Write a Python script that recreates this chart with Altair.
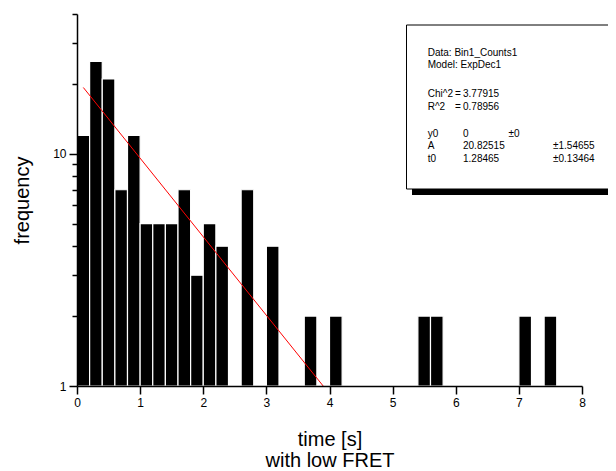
import altair as alt
import pandas as pd

# Histogram bins (start of each 0.2 s bin) and counts
bin_start = [0.0, 0.2, 0.4, 0.6, 0.8, 1.0, 1.2, 1.4, 1.6, 1.8, 2.0, 2.2, 2.6, 3.0,
             3.6, 4.0, 5.4, 5.6, 7.0, 7.4]
counts = [12, 25, 21, 7, 12, 5, 5, 5, 7, 3, 5, 4, 7, 4,
          2, 2, 2, 2, 2, 2]
bin_width = 0.2

# Exponential fit line (straight on the log axis), endpoints
fit_x = [0.1, 3.9]
fit_y = [19.3, 1.0]

# Fit report text
box_lines = ["Data: Bin1_Counts1", "Model: ExpDec1", "Chi^2", "R^2", "y0", "A", "t0"]
box_eq = ["=", "="]
box_vals = ["3.77915", "0.78956", "0", "20.82515", "1.28465"]
box_err = ["±0", "±1.54655", "±0.13464"]

FONT = "Liberation Sans"
W, H = 505, 372

bars = pd.DataFrame({
    "start": bin_start,
    "end": [s + bin_width for s in bin_start],
    "count": counts,
    "base": [1] * len(counts),
})
fit = pd.DataFrame({"x": fit_x, "y": fit_y})

xscale = alt.Scale(domain=[0, 8], nice=False, zero=False)
yscale = alt.Scale(type="log", domain=[1, 40], nice=False, clamp=True)

bar_layer = alt.Chart(bars).mark_bar(color="black", stroke="white", strokeWidth=1.2).encode(
    x=alt.X("start:Q", scale=xscale, axis=alt.Axis(
        values=[i * 0.5 for i in range(17)],
        labelExpr="datum.value % 1 == 0 ? format(datum.value, 'd') : ''",
        tickSize={"condition": {"test": "datum.value % 1 == 0", "value": 8}, "value": 5},
        title=["time [s]", "with low FRET"],
        titleFontSize=20, titleFontWeight="normal", titleFont=FONT,
        titlePadding=21, titleLineHeight=21,
        labelFontSize=12, labelFont=FONT, labelPadding=3, labelColor="black",
        domainColor="black", domainWidth=1.5, tickColor="black", tickWidth=1.5,
        grid=False, labelFlush=False, zindex=1,
    )),
    x2="end:Q",
    y=alt.Y("count:Q", scale=yscale, axis=alt.Axis(
        values=[1, 2, 3, 4, 5, 6, 7, 8, 9, 10, 20, 30, 40],
        labelExpr="datum.value == 1 || datum.value == 10 ? format(datum.value, 'd') : ''",
        tickSize={"condition": {"test": "datum.value == 1 || datum.value == 10", "value": 8}, "value": 5},
        title="frequency",
        titleFontSize=20, titleFontWeight="normal", titleFont=FONT, titlePadding=20,
        labelFontSize=12, labelFont=FONT, labelPadding=3, labelColor="black",
        domainColor="black", domainWidth=1.5, tickColor="black", tickWidth=1.5,
        grid=False, labelFlush=False, zindex=1,
    )),
    y2="base:Q",
)

fit_layer = alt.Chart(fit).mark_line(color="#ff0000", strokeWidth=1).encode(
    x=alt.X("x:Q", scale=xscale),
    y=alt.Y("y:Q", scale=yscale),
)

# Annotation box (pixel positions within the plot area)
one = pd.DataFrame({"a": [0]})
shadow = alt.Chart(one).mark_rect(color="black").encode(
    x=alt.value(335), x2=alt.value(560), y=alt.value(17), y2=alt.value(181),
)
box = alt.Chart(one).mark_rect(fill="white", stroke="black", strokeWidth=1).encode(
    x=alt.value(329.5), x2=alt.value(555), y=alt.value(11), y2=alt.value(175),
)

label_y = [38.5, 51, 80, 92.5, 119.5, 132, 144.5]
texts = pd.DataFrame({
    "t": box_lines + box_eq + box_vals + box_err,
    "px": [350.7] * 7 + [378] * 2 + [386] * 5 + [431.5, 476, 476],
    "py": label_y + label_y[2:4] + label_y[2:] + label_y[4:],
})
text_layer = alt.Chart(texts).mark_text(
    align="left", baseline="middle", fontSize=10, font=FONT, color="black"
).encode(
    x=alt.X("px:Q", scale=None),
    y=alt.Y("py:Q", scale=None),
    text="t:N",
)

chart = alt.layer(bar_layer, fit_layer, shadow, box, text_layer).properties(
    width=W, height=H,
    background="white",
    autosize=alt.AutoSizeParams(type="none"),
    padding={"left": 69, "top": 6, "right": 26, "bottom": 85},
).configure_view(stroke=None)

chart.save("out.html", embed_options={"renderer": "svg", "actions": False})
